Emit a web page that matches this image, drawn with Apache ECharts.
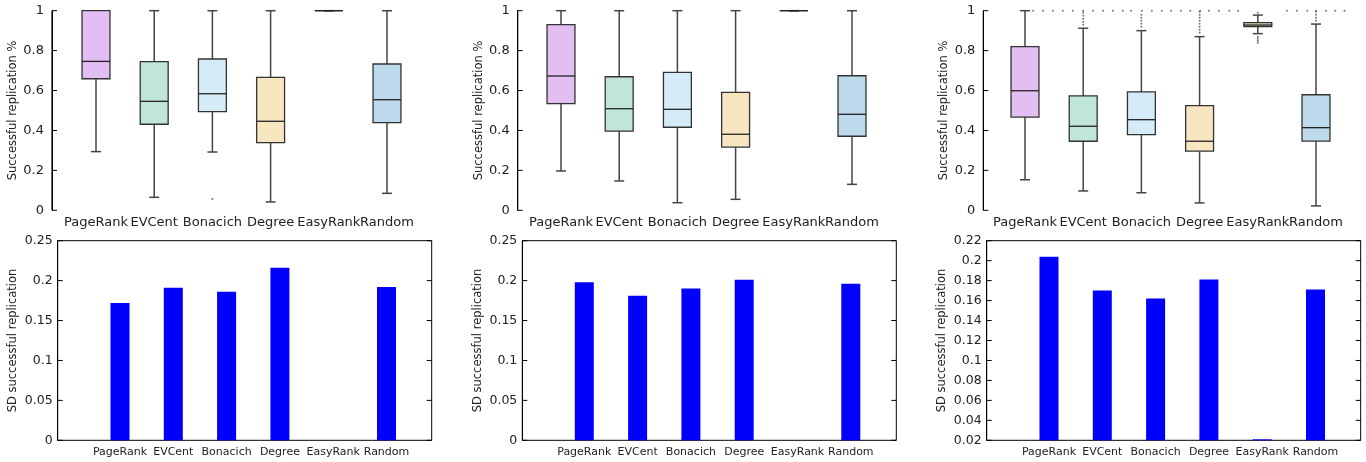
<!DOCTYPE html>
<html><head><meta charset="utf-8">
<script src="https://cdn.jsdelivr.net/npm/echarts@6/dist/echarts.min.js"></script>
<style>html,body{margin:0;padding:0;background:#fff}#c{width:1366px;height:462px}</style>
</head><body><div id="c"></div>
<script>
// ---------- data ----------
const categories = ['PageRank', 'EVCent', 'Bonacich', 'Degree', 'EasyRank', 'Random'];

// box statistics per category: [lower whisker, Q1, median, Q3, upper whisker]
const boxStats1 = [[0.294,0.659,0.746,1,1],[0.065,0.431,0.546,0.745,1],[0.292,0.494,0.584,0.758,1],[0.042,0.339,0.446,0.666,1],[1,1,1,1,1],[0.085,0.439,0.554,0.733,1]];
const boxStats2 = [[0.197,0.534,0.673,0.930,1],[0.147,0.397,0.509,0.669,1],[0.038,0.416,0.506,0.691,1],[0.055,0.317,0.381,0.591,1],[1,1,1,1,1],[0.130,0.371,0.481,0.674,1]];
const boxStats3 = [[0.153,0.467,0.599,0.820,1],[0.097,0.346,0.421,0.573,0.912],[0.088,0.379,0.454,0.593,0.900],[0.037,0.296,0.346,0.524,0.870],[0.885,0.920,0.928,0.940,0.978],[0.022,0.347,0.414,0.579,0.933]];

// outliers: [category position, value]
const outliers1 = [[2, 0.057]];
const outliers2 = [];
const outliers3 = [
  [0.14,1],[0.31,1],[0.48,1],[0.65,1],[0.82,1],[1.0,1],[1.17,1],[1.34,1],[1.51,1],[1.68,1],
  [1.82,1],[2.01,1],[2.18,1],[2.35,1],[2.51,1],[2.68,1],[2.84,1],[3.01,1],[3.16,1],[3.33,1],
  [3.51,1],[3.66,1],[4.5,1],[4.67,1],[4.85,1],[5.0,1],[5.17,1],[5.33,1],[5.49,1],
  [1,0.93],[1,0.945],[1,0.96],[1,0.975],[1,0.99],
  [2,0.92],[2,0.935],[2,0.95],[2,0.965],[2,0.98],
  [3,0.89],[3,0.905],[3,0.92],[3,0.935],[3,0.95],[3,0.965],[3,0.98],[3,0.995],
  [4,0.87],[4,0.86],[4,0.85],[4,0.84],[4,0.99],
  [5,0.95],[5,0.965],[5,0.98],[5,0.995]
];

// standard deviation bars
const sd1 = [0.172, 0.191, 0.186, 0.216, 0, 0.192];
const sd2 = [0.198, 0.181, 0.190, 0.201, 0, 0.196];
const sd3 = [0.204, 0.170, 0.162, 0.181, 0.021, 0.171];

// y-axis settings [min, max, interval] and tick values
const boxAxis = [0, 1, 0.2];
const sdAxis1 = [0, 0.25, 0.05];
const sdAxis2 = [0, 0.25, 0.05];
const sdAxis3 = [0.02, 0.22, 0.02];
const boxTicks = [0, 0.2, 0.4, 0.6, 0.8, 1];
const sdTicks1 = [0, 0.05, 0.1, 0.15, 0.2, 0.25];
const sdTicks2 = [0, 0.05, 0.1, 0.15, 0.2, 0.25];
const sdTicks3 = [0.02, 0.04, 0.06, 0.08, 0.1, 0.12, 0.14, 0.16, 0.18, 0.2, 0.22];

// ---------- styles / layout ----------
const boxColors = ['#e3bef2', '#bfe6d9', '#d5ebf7', '#f8e6c0', '#dedcb6', '#bedbed'];
const FONT = 'DejaVu Sans';
const TXT = '#222';
const topLayout = [ {axisX: 52, firstC: 96}, {axisX: 517.7, firstC: 561}, {axisX: 983.3, firstC: 1025} ];
const TOP_BAND = 58.2, TOP_Y = 10.7, TOP_H = 199.6;
const botLayout = [ {frameL: 57.7, firstC: 120}, {frameL: 522.3, firstC: 584.3}, {frameL: 986.7, firstC: 1049} ];
const BOT_BAND = 53.3, BOT_Y = 240.7, BOT_H = 199.6, FRAME_W = 374;
const TICK_LEN = 5;

const boxSets = [boxStats1, boxStats2, boxStats3];
const outlierSets = [outliers1, outliers2, outliers3];
const sdSets = [sd1, sd2, sd3];
const sdAxes = [sdAxis1, sdAxis2, sdAxis3];
const sdTickSets = [sdTicks1, sdTicks2, sdTicks3];

function renderBox(params, api) {
  const i = api.value(0);
  const lo = api.coord([i, api.value(1)]);
  const q1 = api.coord([i, api.value(2)]);
  const md = api.coord([i, api.value(3)]);
  const q3 = api.coord([i, api.value(4)]);
  const hi = api.coord([i, api.value(5)]);
  const cx = md[0];
  const bw = api.size([1, 0])[0] * 0.48;
  const cw = 10;
  const w = {stroke: '#444', lineWidth: 1.5};
  return {type: 'group', children: [
    {type: 'line', shape: {x1: cx, y1: q3[1], x2: cx, y2: hi[1]}, style: w},
    {type: 'line', shape: {x1: cx, y1: q1[1], x2: cx, y2: lo[1]}, style: w},
    {type: 'line', shape: {x1: cx - cw/2, y1: hi[1], x2: cx + cw/2, y2: hi[1]}, style: w},
    {type: 'line', shape: {x1: cx - cw/2, y1: lo[1], x2: cx + cw/2, y2: lo[1]}, style: w},
    {type: 'rect', shape: {x: cx - bw/2, y: q3[1], width: bw, height: q1[1] - q3[1]},
      style: {fill: boxColors[params.dataIndex], stroke: '#333', lineWidth: 1.3}},
    {type: 'line', shape: {x1: cx - bw/2, y1: md[1], x2: cx + bw/2, y2: md[1]}, style: {stroke: '#222', lineWidth: 1.3}}
  ]};
}

// axis line and inward ticks, placed through the data grid's scales
// gapL / gapR: pixel distance from the data grid edge out to the axis line / frame edge
function makeTickRenderer(range, gapL, gapR, withLine, mirror) {
  return function (params, api) {
    const v = api.value(1);
    const pL = api.coord([-0.5, v]);
    const pR = api.coord([5.5, v]);
    const xL = pL[0] - gapL, xR = pR[0] + gapR;
    const s = {stroke: '#000', lineWidth: 1};
    const children = [{type: 'line', shape: {x1: xL, y1: pL[1], x2: xL + TICK_LEN, y2: pL[1]}, style: s}];
    if (mirror) children.push({type: 'line', shape: {x1: xR - TICK_LEN, y1: pR[1], x2: xR, y2: pR[1]}, style: s});
    if (withLine && params.dataIndex === 0) {
      const a = api.coord([-0.5, range[0]]), b = api.coord([-0.5, range[1]]);
      children.push({type: 'line', shape: {x1: xL, y1: a[1], x2: xL, y2: b[1]}, style: {stroke: '#000', lineWidth: 1.2}});
    }
    return {type: 'group', children};
  };
}

const grid = [], xAxis = [], yAxis = [], series = [];
const hidden = {axisLine: {show: false}, axisTick: {show: false}, axisLabel: {show: false}, splitLine: {show: false}};

// tick labels and name of a value axis (and the frame for the lower panels)
function labelGrid(left, top, width, height, yRange, name, nameGap, labelSize, labelMargin, frame) {
  const [mn, mx, iv] = yRange;
  const gi = grid.length;
  const g = {left, top, width, height, outerBoundsMode: 'none'};
  if (frame) Object.assign(g, {show: true, borderColor: '#000', borderWidth: 1, backgroundColor: 'transparent'});
  grid.push(g);
  xAxis.push(Object.assign({type: 'value', gridIndex: gi, min: 0, max: 1}, hidden));
  yAxis.push({type: 'value', gridIndex: gi, min: mn, max: mx, interval: iv, position: 'left',
    name, nameLocation: 'middle', nameGap,
    nameTextStyle: {fontSize: 11.5, color: TXT, fontFamily: FONT},
    axisLine: {show: true, lineStyle: {color: '#000'}}, axisTick: {show: false}, splitLine: {show: false},
    axisLabel: {show: true, fontSize: labelSize, margin: labelMargin, color: TXT, fontFamily: FONT}});
}

// ---------- top panels (box plots) ----------
topLayout.forEach((L, p) => {
  labelGrid(L.axisX, TOP_Y, 360, TOP_H, boxAxis, 'Successful replication %', 33, 13, 8, false);
  const left = L.firstC - TOP_BAND / 2;
  const gi = grid.length;
  grid.push({left: left, top: TOP_Y, width: TOP_BAND * 6, height: TOP_H, outerBoundsMode: 'none'});
  const xc = xAxis.length;
  xAxis.push({type: 'category', gridIndex: gi, data: categories, boundaryGap: true,
    axisLine: {show: false}, axisTick: {show: false}, splitLine: {show: false},
    axisLabel: {interval: 0, hideOverlap: false, fontSize: 13, margin: 6, color: TXT, fontFamily: FONT}});
  const xv = xAxis.length;
  xAxis.push(Object.assign({type: 'value', gridIndex: gi, min: -0.5, max: 5.5}, hidden));
  const yi = yAxis.length;
  yAxis.push(Object.assign({type: 'value', gridIndex: gi, min: boxAxis[0], max: boxAxis[1]}, hidden));
  series.push({type: 'custom', xAxisIndex: xc, yAxisIndex: yi, renderItem: renderBox,
    encode: {x: 0, y: [1, 2, 3, 4, 5]},
    data: boxSets[p].map((s, i) => [i].concat(s))});
  series.push({type: 'scatter', xAxisIndex: xv, yAxisIndex: yi, symbol: 'circle', symbolSize: 2,
    itemStyle: {color: '#555'}, silent: true, data: outlierSets[p]});
  series.push({type: 'custom', xAxisIndex: xv, yAxisIndex: yi, clip: false, silent: true,
    renderItem: makeTickRenderer(boxAxis, left - L.axisX, 0, true, false),
    encode: {x: 0, y: 1}, data: boxTicks.map(t => [-0.5, t])});
});

// ---------- bottom panels (SD bars) ----------
botLayout.forEach((L, p) => {
  const [mn, mx] = sdAxes[p];
  labelGrid(L.frameL, BOT_Y, FRAME_W, BOT_H, sdAxes[p], 'SD successful replication', 38.5, 12.5, 5, true);
  const left = L.firstC - BOT_BAND / 2;
  const right = left + BOT_BAND * 6;
  const bi = grid.length;
  grid.push({left: left, top: BOT_Y, width: BOT_BAND * 6, height: BOT_H, outerBoundsMode: 'none'});
  const xc = xAxis.length;
  xAxis.push({type: 'category', gridIndex: bi, data: categories, boundaryGap: true,
    axisLine: {show: false}, axisTick: {show: false}, splitLine: {show: false},
    axisLabel: {interval: 0, hideOverlap: false, fontSize: 11, margin: 6, color: TXT, fontFamily: FONT}});
  const xv = xAxis.length;
  xAxis.push(Object.assign({type: 'value', gridIndex: bi, min: -0.5, max: 5.5}, hidden));
  const yi = yAxis.length;
  yAxis.push(Object.assign({type: 'value', gridIndex: bi, min: mn, max: mx}, hidden));
  series.push({type: 'bar', xAxisIndex: xc, yAxisIndex: yi, barWidth: 19, clip: true,
    itemStyle: {color: '#0000ff'}, data: sdSets[p]});
  series.push({type: 'custom', xAxisIndex: xv, yAxisIndex: yi, clip: false, silent: true,
    renderItem: makeTickRenderer(sdAxes[p], left - L.frameL, L.frameL + FRAME_W - right, false, true),
    encode: {x: 0, y: 1}, data: sdTickSets[p].map(t => [-0.5, t])});
});

const chart = echarts.init(document.getElementById('c'), null, {renderer: 'canvas'});
chart.setOption({animation: false, backgroundColor: '#fff', grid, xAxis, yAxis, series});
</script>
</body></html>
